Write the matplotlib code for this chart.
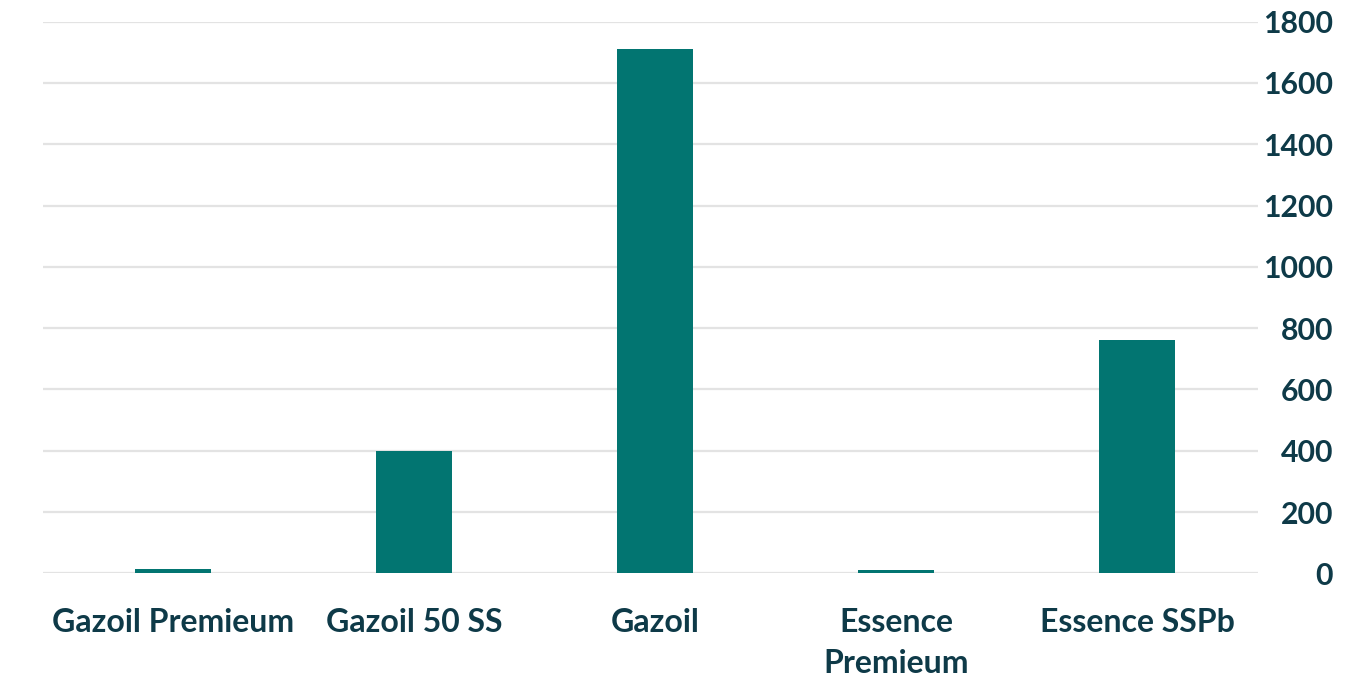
import matplotlib
matplotlib.use("Agg")
import matplotlib.pyplot as plt

categories = ["Gazoil Premieum", "Gazoil 50 SS", "Gazoil", "Essence\nPremieum", "Essence SSPb"]
values = [13, 400, 1712, 12, 762]
yticks = [0, 200, 400, 600, 800, 1000, 1200, 1400, 1600, 1800]

plt.rcParams['font.family'] = ['Lato', 'DejaVu Sans']

W, H = 1368, 677
fig = plt.figure(figsize=(W/100, H/100), dpi=100)
left, right = 42.7/W, 1258/W
bottom, top = 1 - 573.3/H, 1 - 21.7/H
ax = fig.add_axes([left, bottom, right-left, top-bottom])

text_color = "#0e3a48"
bar_color = "#027571"
grid_color = "#e3e3e3"

x = list(range(len(categories)))
ax.bar(x, values, width=0.315, color=bar_color, zorder=3)

ax.set_xlim(-0.54, 4.5)
ax.set_ylim(0, 1800)
ax.set_yticks(yticks)
ax.set_yticklabels([str(t) for t in yticks])
ax.yaxis.tick_right()
ax.yaxis.grid(True, color=grid_color, linewidth=1.6, zorder=0)
ax.set_axisbelow(True)
for s in ax.spines.values():
    s.set_visible(False)

ax.tick_params(axis='y', length=0, pad=54, labelsize=21.8, labelcolor=text_color)
for lab in ax.get_yticklabels():
    lab.set_horizontalalignment('right')
    lab.set_fontweight('bold')

ax.set_xticks(x)
ax.set_xticklabels(categories, fontsize=23, color=text_color, fontweight='bold', linespacing=1.5)
ax.tick_params(axis='x', length=0, pad=25)

fig.savefig("out.png", dpi=100, facecolor='white')
